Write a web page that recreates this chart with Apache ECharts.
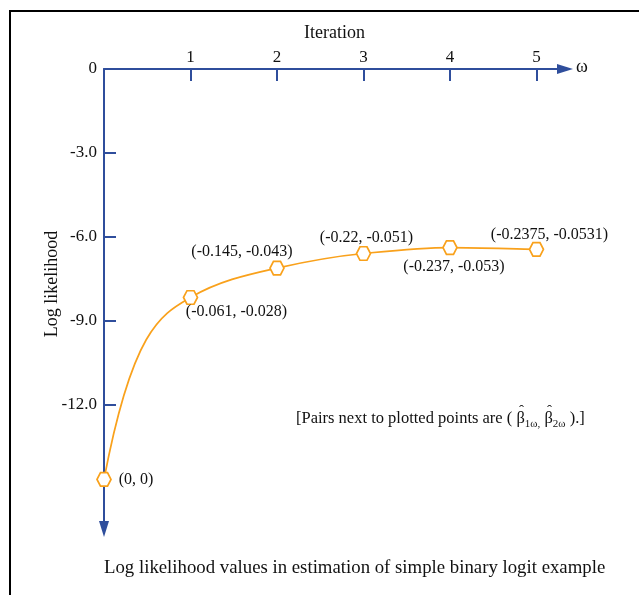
<!DOCTYPE html>
<html>
<head>
<meta charset="utf-8">
<script src="https://cdn.jsdelivr.net/npm/echarts@6/dist/echarts.min.js"></script>
<style>html,body{margin:0;padding:0;background:#fff;}#c{width:639px;height:595px;}</style>
</head>
<body>
<div id="c"></div>
<script>
// ---- data ----
const iterations = [0, 1, 2, 3, 4, 5];
const logLikelihood = [-14.66, -8.16, -7.11, -6.59, -6.38, -6.44];
const pairLabels = ['(0, 0)', '(-0.061, -0.028)', '(-0.145, -0.043)', '(-0.22, -0.051)', '(-0.237, -0.053)', '(-0.2375, -0.0531)'];
const xTickValues = [1, 2, 3, 4, 5];
const yTickValues = [-3, -6, -9, -12];
const yLabelValues = [0, -3, -6, -9, -12];

// ---- layout / style ----
const labelOffsets = [[32, 0], [46, 14], [-35, -16], [3, -16], [4, 19], [13, -15]];
const BLUE = '#2f4e9c';
const ORANGE = '#f9a11b';
const FONT = 'Liberation Serif';

// Monotone (Fritsch–Carlson style) tangents for a smooth curve through the points
function curveTangents(xs, ys) {
  const n = xs.length;
  const d = [];
  for (let i = 0; i < n - 1; i++) d.push((ys[i + 1] - ys[i]) / (xs[i + 1] - xs[i]));
  const m = new Array(n);
  m[0] = 2.5 * d[0];
  m[n - 1] = d[n - 2];
  for (let i = 1; i < n - 1; i++) {
    if (d[i - 1] * d[i] <= 0) m[i] = 0;
    else m[i] = 2 / (1 / d[i - 1] + 1 / d[i]);
  }
  return m;
}
const tangents = curveTangents(iterations, logLikelihood);

// ---- note text built from measured pieces (β with hat, subscripts) ----
const measureCtx = document.createElement('canvas').getContext('2d');
function textWidth(str, size) {
  measureCtx.font = size + 'px "Liberation Serif"';
  return measureCtx.measureText(str).width;
}
function buildNote(x0, yMid) {
  const MAIN = 16.5, SUB = 11;
  const pieces = [
    {t: '[Pairs next to plotted points are ( ', s: MAIN, dy: 0},
    {t: 'β', s: MAIN, dy: 0, hat: true},
    {t: '1ω,', s: SUB, dy: 5},
    {t: ' ', s: MAIN, dy: 0},
    {t: 'β', s: MAIN, dy: 0, hat: true},
    {t: '2ω', s: SUB, dy: 5},
    {t: ' ).]', s: MAIN, dy: 0}
  ];
  const els = [];
  let x = x0;
  pieces.forEach(p => {
    const w = textWidth(p.t, p.s);
    els.push({type: 'text', x: x, y: yMid + p.dy, silent: true,
      style: {text: p.t, fill: '#111', font: p.s + 'px "Liberation Serif"', verticalAlign: 'middle'}});
    if (p.hat) {
      els.push({type: 'text', x: x + w / 2 + 1, y: yMid - 8, silent: true,
        style: {text: 'ˆ', fill: '#111', font: '15px "Liberation Serif"', align: 'center', verticalAlign: 'middle'}});
    }
    x += w;
  });
  return els;
}

const chart = echarts.init(document.getElementById('c'), null, {renderer: 'canvas'});

const pointData = iterations.map((it, i) => ({
  value: [it, logLikelihood[i]],
  label: {show: true, position: 'inside', offset: labelOffsets[i], formatter: pairLabels[i]}
}));
const segmentData = iterations.slice(0, -1).map((it, i) => [it, logLikelihood[i], iterations[i + 1], logLikelihood[i + 1], i]);

chart.setOption({
  animation: false,
  backgroundColor: '#fff',
  grid: {left: 104, top: 69, right: 74, bottom: 66},
  xAxis: {
    type: 'value',
    position: 'top',
    min: 0,
    max: 5.33,
    name: 'Iteration',
    nameLocation: 'middle',
    nameGap: 27,
    nameTextStyle: {color: '#111', fontFamily: FONT, fontSize: 18},
    axisLine: {show: true, onZero: false, symbol: ['none', 'triangle'], symbolSize: [10, 16],
      lineStyle: {color: BLUE, width: 2}},
    axisTick: {show: true, inside: true, length: 12, customValues: xTickValues,
      lineStyle: {color: BLUE, width: 2}},
    axisLabel: {show: true, customValues: xTickValues, color: '#111', fontFamily: FONT, fontSize: 17, margin: 3},
    splitLine: {show: false}
  },
  yAxis: {
    type: 'value',
    position: 'left',
    min: -16.43,
    max: 0,
    axisLine: {show: true, onZero: false, symbol: ['triangle', 'none'], symbolSize: [10, 16],
      lineStyle: {color: BLUE, width: 2}},
    axisTick: {show: true, inside: true, length: 12, customValues: yTickValues,
      lineStyle: {color: BLUE, width: 2}},
    axisLabel: {show: true, customValues: yLabelValues, color: '#111', fontFamily: FONT, fontSize: 17, margin: 7,
      formatter: v => (v === 0 ? '0' : v.toFixed(1))},
    splitLine: {show: false}
  },
  series: [
    {
      type: 'custom',
      data: segmentData,
      clip: false,
      silent: true,
      z: 3,
      renderItem: (params, api) => {
        const x0 = api.value(0), y0 = api.value(1), x1 = api.value(2), y1 = api.value(3), i = api.value(4);
        const h = x1 - x0;
        const p0 = api.coord([x0, y0]);
        const p1 = api.coord([x1, y1]);
        const c0 = api.coord([x0 + h / 3, y0 + tangents[i] * h / 3]);
        const c1 = api.coord([x1 - h / 3, y1 - tangents[i + 1] * h / 3]);
        return {
          type: 'bezierCurve',
          shape: {x1: p0[0], y1: p0[1], x2: p1[0], y2: p1[1], cpx1: c0[0], cpy1: c0[1], cpx2: c1[0], cpy2: c1[1]},
          style: {stroke: ORANGE, fill: null, lineWidth: 1.7}
        };
      }
    },
    {
      type: 'scatter',
      data: pointData,
      clip: false,
      symbol: 'path://M-1,0 L-0.5,-0.866 L0.5,-0.866 L1,0 L0.5,0.866 L-0.5,0.866 Z',
      symbolSize: [14, 13.5],
      itemStyle: {color: '#fff', borderColor: ORANGE, borderWidth: 1.7, opacity: 1},
      label: {color: '#111', fontFamily: FONT, fontSize: 16},
      z: 5
    }
  ],
  graphic: [
    {type: 'rect', shape: {x: 10, y: 11, width: 700, height: 700}, silent: true,
      style: {fill: 'none', stroke: '#000', lineWidth: 2}},
    {type: 'text', x: 576, y: 67, silent: true,
      style: {text: 'ω', fill: '#111', font: '18px "Liberation Serif"', verticalAlign: 'middle'}},
    {type: 'text', x: 52, y: 284, rotation: Math.PI / 2, silent: true,
      style: {text: 'Log likelihood', fill: '#111', font: '18px "Liberation Serif"', align: 'center', verticalAlign: 'middle'}},
    {type: 'text', x: 104, y: 568, silent: true,
      style: {text: 'Log likelihood values in estimation of simple binary logit example', fill: '#111',
        font: '18.8px "Liberation Serif"', verticalAlign: 'middle'}}
  ].concat(buildNote(296, 419))
});
</script>
</body>
</html>
